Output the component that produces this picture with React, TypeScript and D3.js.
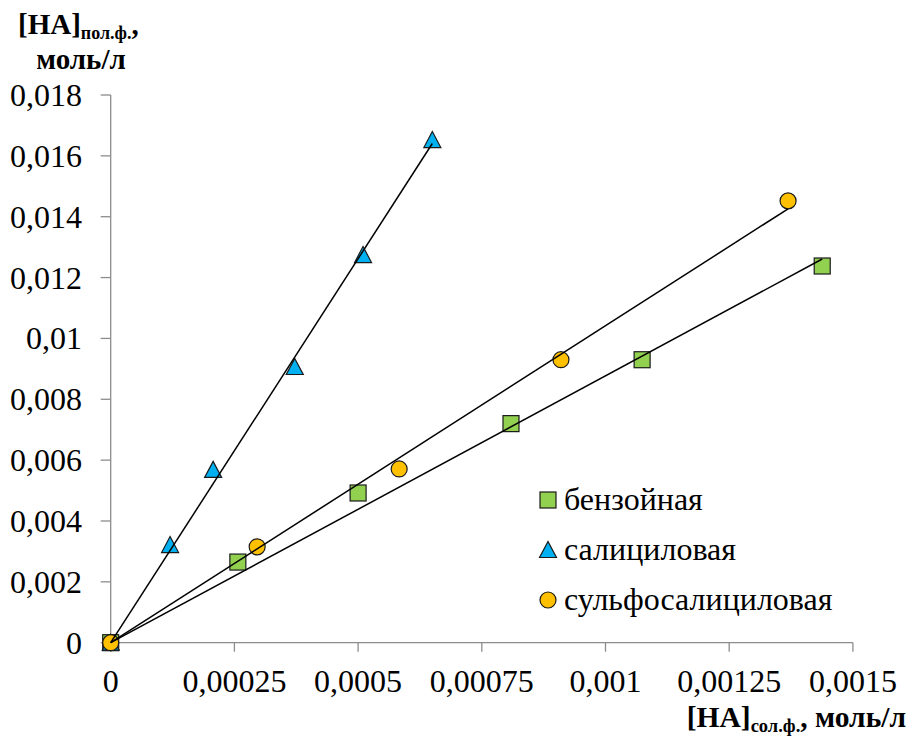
import React from "react";
import * as d3 from "d3";

const benzX = [0, 0.000257, 0.0005, 0.000809, 0.001074, 0.001438];
const benzY = [0, 0.00265, 0.00492, 0.0072, 0.0093, 0.01238];
const salX = [0, 0.00012, 0.000207, 0.000372, 0.00051, 0.00065];
const salY = [0, 0.00321, 0.00568, 0.00906, 0.01274, 0.01652];
const sulfX = [0, 0.000296, 0.000583, 0.00091, 0.001369];
const sulfY = [0, 0.00315, 0.00571, 0.0093, 0.01452];

const seriesNames = ["бензойная", "салициловая", "сульфосалициловая"];
const xTicks = [0, 0.00025, 0.0005, 0.00075, 0.001, 0.00125, 0.0015];
const yTicks = [0, 0.002, 0.004, 0.006, 0.008, 0.01, 0.012, 0.014, 0.016, 0.018];

const FONT = "Liberation Serif";

function fmt(v: number): string {
  if (v === 0) return "0";
  const s = String(+v.toPrecision(6));
  return s.replace(".", ",");
}

function slopeThroughOrigin(xs: number[], ys: number[]): number {
  let sxy = 0, sxx = 0;
  xs.forEach((x, i) => { sxy += x * ys[i]; sxx += x * x; });
  return sxy / sxx;
}

export default function App() {
  const x = d3.scaleLinear().domain([0, 0.0015]).range([110.7, 852.9]);
  const y = d3.scaleLinear().domain([0, 0.018]).range([642.7, 95]);
  const axisColor = "#8c8c8c";

  const series = [
    { xs: benzX, ys: benzY, color: "#92D050", shape: "square" },
    { xs: salX, ys: salY, color: "#00B0F0", shape: "triangle" },
    { xs: sulfX, ys: sulfY, color: "#FFC000", shape: "circle" },
  ];

  const marker = (shape: string, cx: number, cy: number, color: string, key: string) => {
    if (shape === "square")
      return <rect key={key} x={cx - 8} y={cy - 8} width={16} height={16} fill={color} stroke="#1a1a1a" strokeWidth={1.2} />;
    if (shape === "triangle")
      return <path key={key} d={`M${cx},${cy - 8.5} L${cx + 8.5},${cy + 7.5} L${cx - 8.5},${cy + 7.5} Z`} fill={color} stroke="#1a1a1a" strokeWidth={1.2} />;
    return <circle key={key} cx={cx} cy={cy} r={8} fill={color} stroke="#1a1a1a" strokeWidth={1.2} />;
  };

  return (
    <svg width={912} height={740} style={{ position: "absolute", left: 0, top: 0, background: "#fff" }}>
      {/* axes */}
      <line x1={x(0)} x2={x(0)} y1={y(0.018)} y2={y(0)} stroke={axisColor} strokeWidth={1.3} />
      <line x1={x(0)} x2={x(0.0015)} y1={y(0)} y2={y(0)} stroke={axisColor} strokeWidth={1.3} />
      {yTicks.map((t) => (
        <g key={"yt" + t}>
          <line x1={x(0) - 10} x2={x(0)} y1={y(t)} y2={y(t)} stroke={axisColor} strokeWidth={1.3} />
          <text x={82} y={y(t) + 11} textAnchor="end" fontFamily={FONT} fontSize={32} fill="#000">{fmt(t)}</text>
        </g>
      ))}
      {xTicks.map((t) => (
        <g key={"xt" + t}>
          <line x1={x(t)} x2={x(t)} y1={y(0)} y2={y(0) + 9} stroke={axisColor} strokeWidth={1.3} />
          <text x={x(t)} y={692} textAnchor="middle" fontFamily={FONT} fontSize={32} fill="#000">{fmt(t)}</text>
        </g>
      ))}

      {/* markers */}
      {series.map((s, si) => s.xs.map((xv, i) => marker(s.shape, x(xv), y(s.ys[i]), s.color, `m${si}-${i}`)))}

      {/* trend lines */}
      {series.map((s, si) => {
        const k = slopeThroughOrigin(s.xs, s.ys);
        const xm = d3.max(s.xs) as number;
        return <line key={"tl" + si} x1={x(0)} y1={y(0)} x2={x(xm)} y2={y(k * xm)} stroke="#000" strokeWidth={1.5} />;
      })}

      {/* legend */}
      {series.map((s, si) => (
        <g key={"lg" + si}>
          {marker(s.shape, 548, 500 + si * 50, s.color, "lm" + si)}
          <text x={564} y={510 + si * 50} fontFamily={FONT} fontSize={32} fill="#000">{seriesNames[si]}</text>
        </g>
      ))}

      {/* y title */}
      <text x={18} y={34} fontFamily={FONT} fontSize={29} fontWeight="bold" fill="#000">
        [HA]<tspan fontSize={18} dy={5}>пол.ф.</tspan><tspan dy={-5}>,</tspan>
      </text>
      <text x={81} y={69} textAnchor="middle" fontFamily={FONT} fontSize={29} fontWeight="bold" fill="#000">моль/л</text>

      {/* x title */}
      <text x={906} y={727} textAnchor="end" fontFamily={FONT} fontSize={29.5} fontWeight="bold" fill="#000">
        [HA]<tspan fontSize={18.5} dy={5}>сол.ф.</tspan><tspan dy={-5}>, моль/л</tspan>
      </text>
    </svg>
  );
}
